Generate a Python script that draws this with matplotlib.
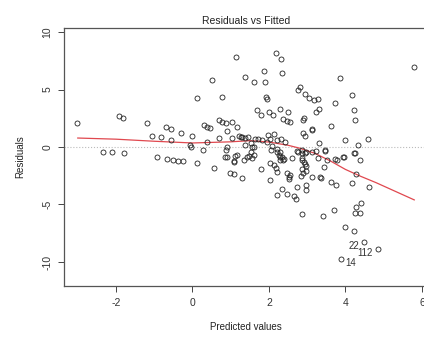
import matplotlib
matplotlib.use('Agg')
import matplotlib.pyplot as plt
import numpy as np

plt.rcParams['font.family'] = ['Liberation Sans', 'DejaVu Sans']
plt.rcParams['axes.unicode_minus'] = False

# fitted / residual pairs
fitted = [-3.01, -1.92, -1.81, -1.18, -1.06, -0.82, -0.69, -0.56, -0.56, -0.30,
          0.00, -0.06, 0.27, 0.38, 0.30, 0.38, 0.46, 0.12, 0.50, 0.77, 1.14,
          -2.34, -2.10, -1.79, -0.93, -0.67, -0.51, -0.38, -0.25, 0.12, 0.56,
          -0.04, 0.88, 0.90, 1.08, 1.16, 0.98, 1.08, 1.30,
          0.69, 0.77, 0.88, 1.03, 0.90, 1.16, 0.69, 1.03, 1.27, 0.90,
          2.18, 2.31, 1.87, 2.34, 1.37, 1.61, 1.90, 3.86, 5.79, 1.92, 1.95,
          2.76, 2.81, 2.94, 3.05, 3.18, 3.28, 3.73, 4.17, 1.69, 1.79, 2.00,
          2.10, 2.29, 2.50, 2.37, 2.47, 2.55, 2.92, 2.89, 3.23, 3.31, 4.22,
          4.25, 3.62, 3.12,
          1.22, 1.30, 1.37, 1.45, 1.63, 1.82, 1.97, 2.13, 2.03, 2.21, 2.31,
          2.42, 2.89, 2.94, 3.12, 4.00, 4.59, 4.33, 3.31, 3.46, 4.25, 4.38,
          3.73, 3.96, 1.37, 1.56, 1.53, 1.71, 1.95,
          0.85, 1.11, 1.08, 1.35, 1.48, 1.61, 2.08, 2.21, 2.29, 2.26, 2.34,
          2.39, 2.76, 2.86, 2.94, 2.86, 2.94, 3.12, 3.28, 2.03, 2.13,
          1.61, 1.53, 1.42, 1.56, 1.79, 2.05, 2.21, 2.29, 2.29, 2.18, 2.21,
          2.37, 2.60, 2.03, 2.47, 2.52, 2.52, 2.34, 2.21, 2.47, 2.65, 2.71,
          2.73, 2.97, 2.97, 2.86, 3.41, 2.73, 2.86, 2.97, 2.86, 2.92, 2.97,
          2.86, 2.89, 2.84, 2.97, 3.12, 3.23, 3.46, 3.52, 3.44, 3.36, 3.62,
          2.55, 3.33, 3.75, 4.17, 4.28, 4.61, 3.70, 4.28, 4.41, 4.25, 4.38,
          4.00, 4.22, 4.48, 4.85, 3.88, 3.93, 4.22, 3.78]
resid = [2.06, 2.70, 2.52, 2.06, 0.96, 0.87, 1.74, 1.56, 0.60, 1.22,
         0.96, 0.17, -0.26, 0.43, 1.90, 1.74, 1.65, 4.26, 5.80, 4.35, 7.80,
         -0.43, -0.43, -0.52, -0.87, -1.04, -1.13, -1.20, -1.20, -1.40, -1.80,
         0.00, -0.26, -0.87, -1.20, -0.70, -2.26, -2.35, -2.70,
         2.35, 2.17, 2.09, 2.17, 1.39, 1.74, 0.78, 0.78, 0.87, 0.00,
         8.17, 7.65, 6.60, 6.40, 6.10, 5.65, 5.65, 6.00, 6.96, 4.35, 4.17,
         4.96, 5.20, 4.60, 4.26, 4.09, 4.17, 3.80, 4.52, 3.20, 2.78, 3.04,
         2.78, 3.30, 3.04, 2.43, 2.26, 2.17, 2.52, 2.35, 3.04, 3.30, 3.20,
         2.35, 1.83, 1.48,
         0.96, 0.87, 0.78, 0.87, 0.70, 0.60, 1.04, 1.13, 0.70, 0.60, 0.70,
         0.43, 1.22, 0.96, 1.56, 0.60, 0.70, 0.17, 0.35, -0.26, -0.52, -1.13,
         -1.04, -0.87, 0.17, 0.00, 0.35, 0.70, 0.43,
         -0.87, -0.78, -1.30, -1.13, -0.78, -0.70, 0.09, -0.17, -0.43, -0.70, -0.87,
         -1.04, -0.43, -0.52, -0.52, -1.13, -1.48, -0.43, -0.96, -1.40, -1.57,
         0.00, -0.43, -0.87, -0.96, -1.90, -0.26, -0.43, -0.87, -1.13, -1.83, -2.17,
         -1.13, -0.96, -2.87, -2.26, -2.60, -2.78, -3.65, -4.17, -4.09, -4.26, -4.52,
         -3.48, -3.30, -3.74, -5.80, -6.00, -0.35, -0.26, -0.43, -0.96, -1.30, -1.65,
         -1.90, -2.26, -2.50, -2.09, -2.60, -0.35, -0.35, -1.13, -1.74, -2.70, -3.04,
         -2.43, -2.60, -3.30, -3.13, -2.35, -3.48, -5.48, -5.20, -4.87, -5.74, -5.74,
         -6.96, -7.30, -8.26, -8.87, -9.74, -0.87, -0.52, -1.13]

# smoother (red line)
smooth_x = [-3.0, -2.0, -1.0, 0.0, 1.0, 1.5, 2.0, 2.5, 2.8, 3.2, 3.6, 4.0, 4.4, 4.8, 5.3, 5.8]
smooth_y = [0.78, 0.68, 0.50, 0.35, 0.45, 0.55, 0.43, 0.15, -0.10, -0.55, -1.20, -1.95, -2.55, -3.10, -3.85, -4.60]

# labelled outliers
out_labels = ['22', '112', '14']
out_x = [4.48, 4.85, 3.88]
out_y = [-8.26, -8.87, -9.74]

xticks = [-2, 0, 2, 4, 6]
yticks = [-10, -5, 0, 5, 10]

fig = plt.figure(figsize=(4.24, 3.38), dpi=100)
ax = fig.add_axes([64/424, 52/338, 364/424, 258/338])

ax.axhline(0, color='#bbbbbb', linestyle=':', linewidth=0.8, zorder=1)
ax.plot(fitted, resid, linestyle='none', marker='o', markersize=3.6,
        markerfacecolor='none', markeredgecolor='#222222', markeredgewidth=0.6, zorder=3)
ax.plot(smooth_x, smooth_y, color='#e0484f', linewidth=0.9, zorder=2)

offsets = [(-7, -3), (-9, -3), (7, -3)]
for lab, x, y, off in zip(out_labels, out_x, out_y, offsets):
    ax.annotate(lab, (x, y), xytext=off, textcoords='offset points',
                ha='center', va='center', fontsize=7, color='#333333')

ax.set_xlim(-3.36, 6.16)
ax.set_ylim(-12.09, 10.35)
ax.set_xticks(xticks)
ax.set_yticks(yticks)
ax.tick_params(direction='out', length=4.5, width=0.7, colors='#444444',
               labelsize=7.5, labelcolor='#333333', pad=4)
for lab in ax.get_yticklabels():
    lab.set_rotation(90)
    lab.set_va('center')
for s in ax.spines.values():
    s.set_color('#555555')
    s.set_linewidth(0.9)

ax.set_title('Residuals vs Fitted', fontsize=7.5, color='#222222', pad=3)
ax.set_xlabel('Predicted values', fontsize=7, color='#222222', labelpad=10)
ax.set_ylabel('Residuals', fontsize=7, color='#222222', labelpad=12)

fig.savefig('out.png', dpi=100)
